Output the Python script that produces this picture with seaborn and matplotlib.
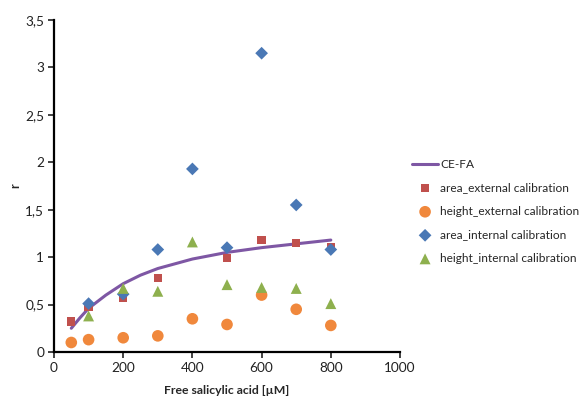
import matplotlib
matplotlib.use("Agg")
import matplotlib.pyplot as plt
import matplotlib.ticker as mticker
import seaborn as sns
import pandas as pd

# Concentrations of free salicylic acid (µM)
conc = [50, 100, 200, 300, 400, 500, 600, 700, 800]

# Reference curve (CE-FA)
cefa_x = [50, 75, 100, 150, 200, 250, 300, 400, 500, 600, 700, 800]
cefa_y = [0.25, 0.36, 0.46, 0.60, 0.72, 0.81, 0.88, 0.98, 1.05, 1.10, 1.14, 1.18]

# Measured ratios
area_ext = [0.32, 0.48, 0.57, 0.78, None, 0.99, 1.18, 1.15, 1.11]
height_ext = [0.10, 0.13, 0.15, 0.17, 0.35, 0.29, 0.60, 0.45, 0.28]
area_int = [None, 0.51, 0.61, 1.08, 1.93, 1.10, 3.15, 1.55, 1.08]
height_int = [None, 0.38, 0.67, 0.64, 1.16, 0.71, 0.68, 0.67, 0.51]

labels = ["CE-FA", "area_external calibration", "height_external calibration",
          "area_internal calibration", "height_internal calibration"]

sns.set_theme(style="white")
plt.rcParams["font.family"] = ["Lato", "DejaVu Sans"]

fig = plt.figure(figsize=(5.85, 3.97), dpi=100)
ax = fig.add_axes([0.0923, 0.1134, 0.5915, 0.8362])

sns.lineplot(x=cefa_x, y=cefa_y, ax=ax, color="#7E57A4", linewidth=2.2, label=labels[0])

series = [
    (area_ext, "s", "#C0504D", 36, labels[1]),
    (height_ext, "o", "#F0883C", 70, labels[2]),
    (area_int, "D", "#4A78B5", 42, labels[3]),
    (height_int, "^", "#8EB04E", 62, labels[4]),
]
for vals, marker, color, size, lab in series:
    df = pd.DataFrame({"x": conc, "y": vals}).dropna()
    sns.scatterplot(data=df, x="x", y="y", ax=ax, marker=marker, color=color,
                    s=size, edgecolor="none", label=lab, zorder=3)

ax.set_xlim(0, 1000)
ax.set_ylim(0, 3.5)
ax.set_xticks([0, 200, 400, 600, 800, 1000])
ax.set_yticks([0, 0.5, 1, 1.5, 2, 2.5, 3, 3.5])
ax.yaxis.set_major_formatter(mticker.FuncFormatter(
    lambda v, p: ("%g" % v).replace(".", ",")))

for side in ["top", "right"]:
    ax.spines[side].set_visible(False)
for side in ["left", "bottom"]:
    ax.spines[side].set_color("black")
    ax.spines[side].set_linewidth(1.6)
ax.tick_params(axis="both", direction="out", length=4, width=1.2, colors="#222222",
               labelsize=9.8, pad=3, left=True, bottom=True)

ax.set_xlabel("Free salicylic acid [µM]", fontsize=8.8, fontweight="bold", labelpad=8)
ax.set_ylabel("r", fontsize=9, fontweight="bold", labelpad=3, rotation=90)

ax.legend(loc="upper left", bbox_to_anchor=(0.696, 0.612), bbox_transform=fig.transFigure,
          frameon=False, fontsize=8.6, handlelength=2.2, handletextpad=0.15,
          labelspacing=1.05, borderaxespad=0)

fig.savefig("out.png", dpi=100)
